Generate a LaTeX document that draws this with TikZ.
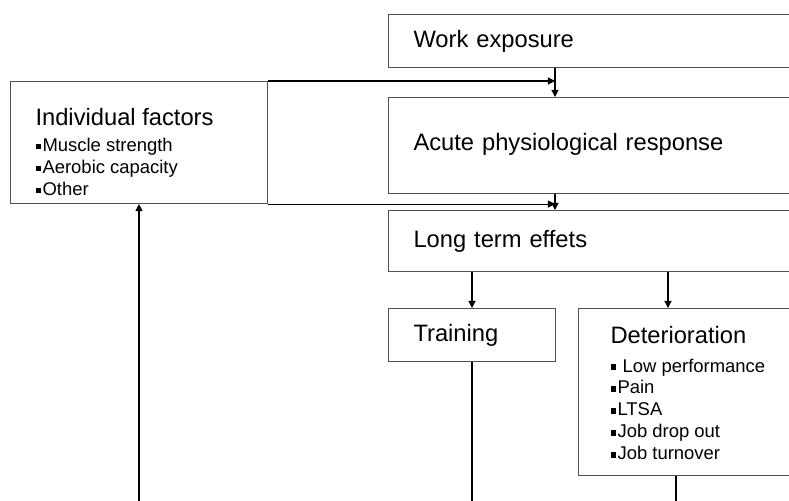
\documentclass[tikz,border=0pt]{standalone}
\usepackage{fontspec}
\setmainfont{Liberation Sans}
\usetikzlibrary{arrows.meta}
\usetikzlibrary{positioning}

\definecolor{edgegray}{RGB}{80,80,80}
\newcommand{\bigtxt}{\fontsize{13.5}{16}\selectfont}
\newcommand{\smalltxt}{\fontsize{10.5}{12.5}\selectfont}
\newcommand{\sqb}{\rule[0.12em]{0.3em}{0.3em}\hspace{0.08em}}
% fixed-height box, text from the top
\newcommand{\topbox}[4]{\parbox[c][#1][t]{#2}{\raggedright\vspace*{#3}#4}}

\tikzset{
  box/.style={draw=edgegray, line width=0.6pt, anchor=north west, inner xsep=0.5cm, inner ysep=0pt, align=left, font=\bigtxt},
  arr/.style={-{Triangle[length=4pt,width=4pt]}, line width=0.6pt},
  link/.style={line width=0.6pt},
}

\begin{document}
\begin{tikzpicture}[x=0.02cm,y=-0.02cm]
\useasboundingbox (0,0) rectangle (789,501);
\clip (0,0) rectangle (789,501);

% main chain
\node[box, text width=7.84cm, minimum height=1.06cm] (work) at (388,14) {Work exposure};
\node[box, text width=7.84cm, minimum height=1.92cm] (acute) at (388,97) {\raisebox{4pt}{Acute physiological response}};
\node[box, text width=7.84cm, minimum height=1.22cm] (longt) at (388,210) {Long term effets};

% outcomes
\node[box, text width=2.34cm, minimum height=1.06cm] (train) at (388,308) {Training};
\node[box, inner xsep=0.64cm] (deter) at (578,308)
  {\topbox{3.34cm}{3.76cm}{0.36cm}{Deterioration\\[3.6pt]\smalltxt
   \sqb{} Low performance\\\sqb Pain\\\sqb LTSA\\\sqb Job drop out\\\sqb Job turnover}};

% individual factors
\node[box] (indiv) at (10,81)
  {\topbox{2.44cm}{4.14cm}{0.54cm}{Individual factors\\[2.2pt]\smalltxt
   \sqb Muscle strength\\\sqb Aerobic capacity\\\sqb Other}};

\coordinate (mid) at (555,0);
\coordinate (dx) at (668,0);
\coordinate (dout) at (676,0);
\coordinate (upx) at (139,520);
\coordinate (below) at (0,520);

\draw[arr] (work.south -| mid) -- (acute.north -| mid);
\draw[arr] (acute.south -| mid) -- (longt.north -| mid);
\draw[arr] (indiv.north east) -- (indiv.north east -| mid);
\draw[arr] (indiv.south east) -- (indiv.south east -| mid);

\draw[arr] (longt.south -| train.north) -- (train.north);
\draw[arr] (longt.south -| dx) -- (deter.north -| dx);

\draw[link] (train.south) -- (train.south |- below);
\draw[link] (deter.south -| dout) -- (dout |- below);
\draw[arr] (upx) -- (indiv.south -| upx);

\end{tikzpicture}
\end{document}
